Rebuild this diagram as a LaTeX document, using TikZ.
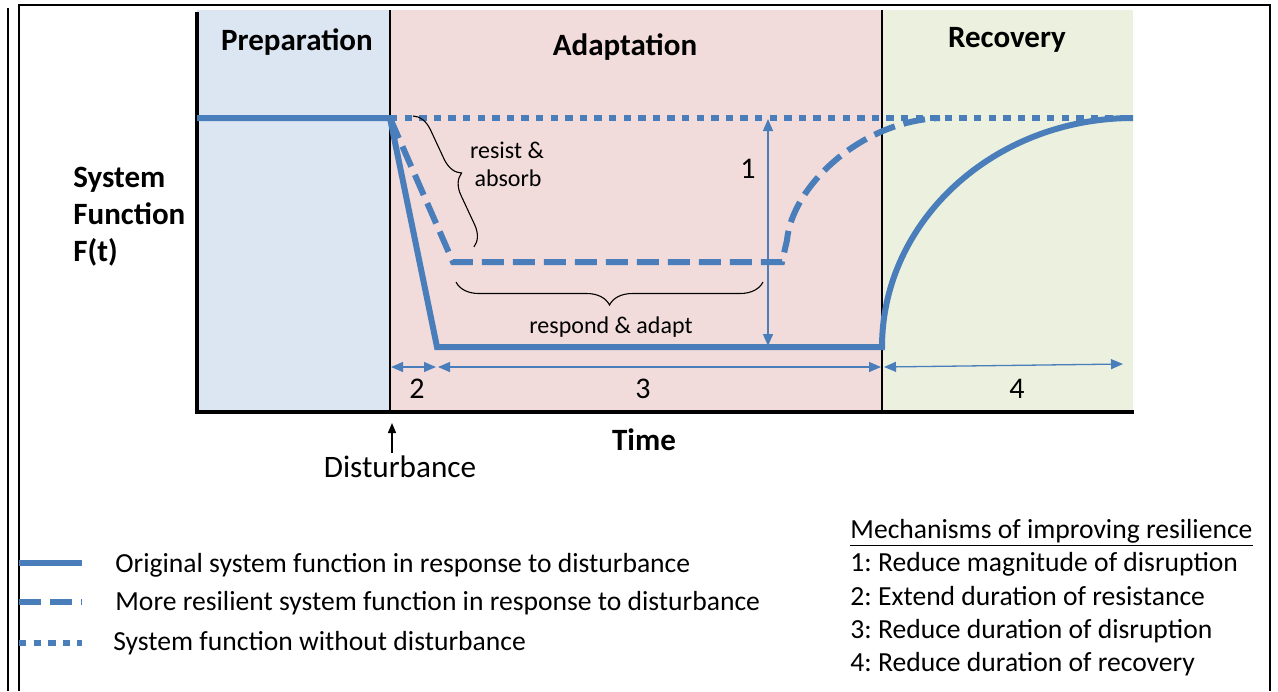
\documentclass[tikz,border=0pt]{standalone}
\usepackage{fontspec}
\setmainfont{Carlito}
\usetikzlibrary{decorations.pathreplacing,arrows.meta}
\frenchspacing
\definecolor{lineblue}{RGB}{74,126,187}
\definecolor{prepfill}{RGB}{220,230,242}
\definecolor{adaptfill}{RGB}{242,220,219}
\definecolor{recfill}{RGB}{235,241,222}
\newcommand{\fsHead}{\fontsize{15.5}{18.5}\selectfont\bfseries}
\newcommand{\fsNum}{\fontsize{15}{18}\selectfont}
\newcommand{\fsSmall}{\fontsize{12}{14}\selectfont}
\newcommand{\fsLeg}{\fontsize{13.8}{16.5}\selectfont}
\newcommand{\fsDist}{\fontsize{15.6}{18}\selectfont}
\tikzset{
  txt/.style={inner sep=0pt, anchor=base},
  ltxt/.style={inner sep=0pt, anchor=base west},
  curvesolid/.style={draw=lineblue, line width=3pt},
  curvedash/.style={draw=lineblue, line width=3pt, dash pattern=on 11pt off 4.5pt},
  curvedot/.style={draw=lineblue, line width=3pt, dash pattern=on 3.65pt off 3.65pt},
  dimarrow/.style={draw=lineblue, line width=0.65pt,
    {Triangle[length=6pt,width=5pt]}-{Triangle[length=6pt,width=5pt]}},
  bracestyle/.style={draw=black, line width=0.55pt, decorate,
    decoration={brace, amplitude=#1}},
  divider/.style={draw=black, line width=0.7pt},
  axisline/.style={draw=black, line width=2pt}
}
\begin{document}
\begin{tikzpicture}[x=0.5pt, y=-0.5pt]
\useasboundingbox (0,0) rectangle (1278,691);
% frames
\draw[line width=0.65pt] (8,8) -- (8,691);
\draw[line width=1pt] (19,691) -- (19,5) -- (1270,5) -- (1270,691);
% regions
\fill[prepfill] (197,10) rectangle (390,412);
\fill[adaptfill] (390,10) rectangle (882,412);
\fill[recfill] (882,10) rectangle (1133,412);
\draw[divider] (390,10) -- (390,412);
\draw[divider] (882,10) -- (882,412);
\draw[axisline] (197,12) -- (197,412) -- (1134,412);
% region labels
\node[txt, font=\fsHead] (prep) at (297,50) {Preparation};
\node[txt, font=\fsHead] (adapt) at (625,55) {Adaptation};
\node[txt, font=\fsHead] (recov) at (1007,47) {Recovery};
\node[txt, font=\fsHead] (timelbl) at (644,450) {Time};
\node[ltxt, font=\fsHead] (sys1) at (73,187) {System};
\node[ltxt, font=\fsHead] (sys2) at (73,224) {Function};
\node[ltxt, font=\fsHead] (sys3) at (73,261) {F(t)};
% key points
\coordinate (s0) at (197,118);
\coordinate (d0) at (390,118);
\coordinate (s1) at (437,347);
\coordinate (s2) at (882,347);
\coordinate (fend) at (1133,118);
\coordinate (r1) at (453,262);
\coordinate (r2) at (782,262);
\coordinate (r3) at (787,240);
\coordinate (rend) at (940,118);
% curves
\draw[curvedot] (d0) -- (fend);
\draw[curvedash] (d0) -- (r1) -- (r2) -- (r3) .. controls (792,187) and (860,121) .. (rend);
\draw[curvesolid] (s0) -- (d0) -- (s1) -- (s2) .. controls (882,221) and (994,118) .. (fend);
% braces
\coordinate (b1a) at (413,116);
\coordinate (b1b) at (474,247);
\draw[bracestyle=10pt] (b1a) -- (b1b);
\node[txt, font=\fsSmall] (resist) at (507,158) {resist \&};
\node[txt, font=\fsSmall] (absorb) at (508,186) {absorb};
\coordinate (b2a) at (763,282);
\coordinate (b2b) at (456,282);
\draw[bracestyle=11.5pt] (b2a) -- (b2b);
\node[txt, font=\fsSmall] (respond) at (611,333) {respond \& adapt};
% dimension arrows
\coordinate (a1t) at (768,119);
\coordinate (a1b) at (768,346);
\draw[dimarrow] (a1t) -- (a1b);
\node[txt, font=\fsNum] (n1) at (748,178) {1};
\coordinate (a2l) at (391,367);
\coordinate (a2r) at (436,367);
\draw[dimarrow] (a2l) -- (a2r);
\node[txt, font=\fsNum] (n2) at (417,398) {2};
\coordinate (a3l) at (438,367);
\coordinate (a3r) at (881,367);
\draw[dimarrow] (a3l) -- (a3r);
\node[txt, font=\fsNum] (n3) at (643,398) {3};
\coordinate (a4l) at (884,367);
\coordinate (a4r) at (1123,364);
\draw[dimarrow] (a4l) -- (a4r);
\node[txt, font=\fsNum] (n4) at (1017,398) {4};
% disturbance
\node[txt, font=\fsDist] (dist) at (400,477) {Disturbance};
\coordinate (disttop) at (392,423);
\coordinate (distbot) at (392,453);
\draw[line width=0.65pt, -{Triangle[length=5pt,width=4pt]}] (distbot) -- (disttop);
% legend
\coordinate (l1a) at (19,563); \coordinate (l1b) at (82,563);
\coordinate (l2a) at (19,602); \coordinate (l2b) at (82,602);
\coordinate (l3a) at (19,643); \coordinate (l3b) at (82,643);
\draw[curvesolid] (l1a) -- (l1b);
\draw[curvedash] (l2a) -- (l2b);
\draw[curvedot] (l3a) -- (l3b);
\node[ltxt, font=\fsLeg] (leg1) at (115,572) {Original system function in response to disturbance};
\node[ltxt, font=\fsLeg] (leg2) at (115,610) {More resilient system function in response to disturbance};
\node[ltxt, font=\fsLeg] (leg3) at (113,650) {System function without disturbance};
% mechanisms
\node[ltxt, font=\fsLeg] (mech0) at (850,538) {\underline{Mechanisms of improving resilience}};
\node[ltxt, font=\fsLeg] (mech1) at (850,571) {1: Reduce magnitude of disruption};
\node[ltxt, font=\fsLeg] (mech2) at (850,605) {2: Extend duration of resistance};
\node[ltxt, font=\fsLeg] (mech3) at (850,638) {3: Reduce duration of disruption};
\node[ltxt, font=\fsLeg] (mech4) at (850,671) {4: Reduce duration of recovery};
\end{tikzpicture}
\end{document}
